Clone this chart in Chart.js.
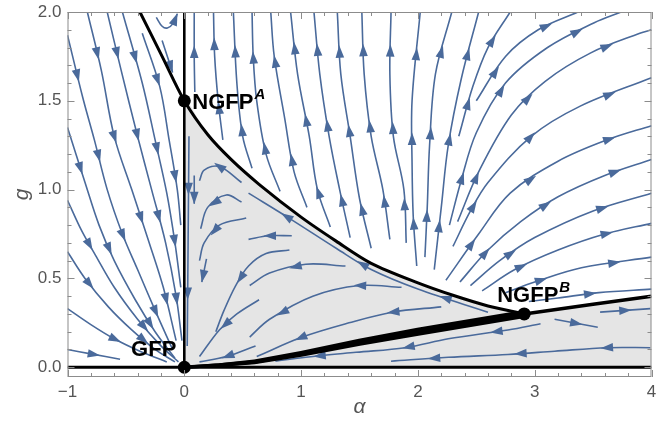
<!DOCTYPE html>
<html>
<head>
<meta charset="utf-8">
<script src="https://cdn.jsdelivr.net/npm/chart.js@4.4.0/dist/chart.umd.min.js"></script>
<style>
  html, body { margin: 0; padding: 0; background: #fff; }
</style>
</head>
<body>
<canvas id="myChart" width="658" height="443"></canvas>
<script>
// axis ticks
const xTicks = [-1, 0, 1, 2, 3, 4];
const yTicks = [0, 0.5, 1, 1.5, 2];

// fixed points and their names
const fixedPoints = [[0, 0], [0, 1.5], [2.91, 0.30]];
const fixedNames = ["GFP", "NGFP", "NGFP"];
const fixedSups = ["", "A", "B"];

// separatrices (alpha, g)
const upperSep = [[-0.38, 2.0], [-0.19, 1.75], [0, 1.5], [0.2, 1.31], [0.4, 1.17], [0.64, 1.03], [1.0, 0.845],
  [1.3, 0.71], [1.6, 0.585], [2.0, 0.475], [2.3, 0.405], [2.6, 0.345], [2.91, 0.30]];
const lowerSep = [[0, 0], [0.3, 0.012], [0.6, 0.03], [1.0, 0.075], [1.5, 0.14], [2.0, 0.2], [2.5, 0.255],
  [2.91, 0.30], [3.5, 0.355], [4.0, 0.40]];
const gAxisLine = [[0, 0], [0, 2]];
const alphaAxisLine = [[-1, 0], [4, 0]];

// stream lines, listed in the direction of flow
const leftLines = [
  [[-1, 1.87], [-0.87, 1.52], [-0.77, 1.28], [-0.66, 1.0], [-0.53, 0.75], [-0.40, 0.55], [-0.25, 0.32], [-0.1, 0.1]],
  [[-0.83, 2.0], [-0.71, 1.67], [-0.6, 1.3], [-0.45, 1.0], [-0.3, 0.7], [-0.18, 0.45], [-0.07, 0.15]],
  [[-0.66, 2.0], [-0.54, 1.67], [-0.4, 1.3], [-0.28, 1.0], [-0.16, 0.7], [-0.07, 0.4], [-0.02, 0.15]],
  [[-0.53, 2.0], [-0.36, 1.6], [-0.25, 1.28], [-0.15, 0.98], [-0.08, 0.7], [-0.03, 0.45]],
  [[-0.36, 1.88], [-0.21, 1.58], [-0.13, 1.28], [-0.06, 1.0], [-0.03, 0.8]],
  [[-0.19, 1.84], [-0.1, 1.66]],
  [[-0.24, 1.97], [-0.19, 1.92], [-0.145, 1.91], [-0.09, 1.94], [-0.06, 1.99]],
  [[-1, 1.35], [-0.85, 1.04], [-0.73, 0.8], [-0.6, 0.6], [-0.42, 0.38], [-0.25, 0.2], [-0.08, 0.05]],
  [[-1, 0.94], [-0.88, 0.77], [-0.76, 0.63], [-0.6, 0.45], [-0.4, 0.27], [-0.2, 0.12], [-0.05, 0.03]],
  [[-1, 0.65], [-0.85, 0.5], [-0.65, 0.34], [-0.45, 0.21], [-0.25, 0.1], [-0.08, 0.03]],
  [[-1, 0.33], [-0.8, 0.24], [-0.6, 0.16], [-0.38, 0.09], [-0.15, 0.03]],
  [[-1, 0.10], [-0.8, 0.075], [-0.55, 0.045]]
];

const upperLines = [
  [[0.09, 1.55], [0.085, 1.75], [0.085, 2.0]],
  [[0.33, 1.28], [0.29, 1.5], [0.26, 1.75], [0.25, 2.0]],
  [[0.58, 1.12], [0.5, 1.3], [0.45, 1.6], [0.42, 2.0]],
  [[0.82, 0.99], [0.7, 1.2], [0.62, 1.5], [0.59, 1.75], [0.58, 2.0]],
  [[1.05, 0.9], [0.94, 1.1], [0.86, 1.4], [0.77, 1.75], [0.74, 2.0]],
  [[1.25, 0.79], [1.14, 1.0], [1.07, 1.3], [0.97, 1.65], [0.91, 2.0]],
  [[1.42, 0.73], [1.33, 1.0], [1.24, 1.3], [1.16, 1.65], [1.11, 2.0]],
  [[1.6, 0.67], [1.5, 0.95], [1.42, 1.3], [1.34, 1.65], [1.31, 2.0]],
  [[1.76, 0.72], [1.7, 1.0], [1.6, 1.3], [1.54, 1.65], [1.52, 2.0]],
  [[1.9, 0.7], [1.88, 1.0], [1.79, 1.3], [1.76, 1.65], [1.77, 2.0]],
  [[1.99, 0.57], [1.96, 0.85], [1.95, 1.15], [1.95, 1.5], [2.02, 2.0]],
  [[2.06, 0.62], [2.08, 0.9], [2.1, 1.25], [2.15, 1.65], [2.29, 2.0]]
];

const rightLines = [
  [[2.14, 0.55], [2.2, 0.9], [2.26, 1.25], [2.37, 1.62], [2.52, 2.0]],
  [[2.35, 1.3], [2.47, 1.58], [2.6, 1.8], [2.79, 2.0]],
  [[2.5, 1.5], [2.75, 1.75], [3.03, 1.9], [3.37, 2.0]],
  [[2.27, 0.8], [2.37, 1.05], [2.5, 1.32], [2.75, 1.6], [3.11, 1.8], [3.51, 1.94], [3.74, 2.0]],
  [[2.34, 0.82], [2.52, 1.1], [2.8, 1.42], [3.09, 1.61], [3.48, 1.77], [3.9, 1.88], [4.0, 1.9]],
  [[2.3, 0.68], [2.45, 0.88], [2.6, 1.04], [2.97, 1.3], [3.39, 1.47], [4.0, 1.63]],
  [[2.24, 0.49], [2.52, 0.75], [2.79, 0.98], [3.2, 1.16], [3.62, 1.28], [4.0, 1.36]],
  [[2.36, 0.48], [2.6, 0.66], [2.88, 0.82], [3.2, 0.96], [3.6, 1.08], [4.0, 1.17]],
  [[2.45, 0.46], [2.7, 0.6], [3.0, 0.73], [3.5, 0.88], [4.0, 0.98]],
  [[2.55, 0.43], [2.83, 0.55], [3.2, 0.66], [3.6, 0.75], [4.0, 0.81]],
  [[2.75, 0.42], [3.0, 0.48], [3.4, 0.56], [4.0, 0.62]],
  [[2.95, 0.37], [3.2, 0.39], [3.55, 0.42], [4.0, 0.44]],
  [[3.17, 0.27], [3.54, 0.225]],
  [[3.56, 0.31], [3.99, 0.33]]
];

const shadedLines = [
  [[3.99, 0.11], [3.62, 0.11], [3.17, 0.09], [2.77, 0.072], [2.26, 0.056], [1.77, 0.034]],
  [[3.05, 0.245], [2.77, 0.21], [2.26, 0.16], [1.89, 0.11], [1.47, 0.084], [1.04, 0.056], [0.78, 0.034]],
  [[2.2, 0.34], [1.78, 0.31], [1.41, 0.25], [1.01, 0.17], [0.62, 0.06]],
  [[1.86, 0.45], [1.5, 0.46], [1.1, 0.40], [0.73, 0.27], [0.56, 0.17]],
  [[1.38, 0.57], [1.04, 0.58], [0.73, 0.53], [0.56, 0.46]],
  [[0.92, 0.74], [0.72, 0.74], [0.55, 0.72]],
  [[0.9, 0.66], [0.7, 0.64], [0.55, 0.57], [0.44, 0.46], [0.34, 0.32], [0.27, 0.2]],
  [[2.6, 0.31], [2.0, 0.44], [1.6, 0.55], [1.3, 0.67], [0.92, 0.83], [0.55, 0.98]],
  [[0.49, 1.04], [0.3, 1.13], [0.17, 1.11], [0.13, 1.05]],
  [[0.49, 0.93], [0.36, 0.97], [0.2, 0.9], [0.14, 0.78]],
  [[0.53, 0.84], [0.3, 0.8], [0.17, 0.7], [0.13, 0.6]],
  [[0.085, 1.08], [0.085, 0.92]],
  [[0.64, 0.38], [0.45, 0.3], [0.3, 0.21], [0.13, 0.06]],
  [[0.61, 0.12], [0.36, 0.06], [0.13, 0.03]],
  [[0.19, 0.61], [0.15, 0.48]],
  [[0.04, 1.3], [0.035, 0.9], [0.03, 0.5], [0.025, 0.12]]
];

const streamColor = "#4a6a9b";
const toXY = arr => arr.map(p => ({ x: p[0], y: p[1] }));

// shaded basin: g axis up to NGFP^A, upper separatrix to NGFP^B, lower separatrix to the right edge
const shadeLine = [[0, 0]].concat(upperSep.filter(p => p[0] >= 0), lowerSep.filter(p => p[0] > 2.91));

const streamSets = [].concat(leftLines, upperLines, rightLines, shadedLines).map(line => ({
  data: toXY(line),
  showLine: true,
  pointRadius: 0,
  borderColor: streamColor,
  borderWidth: 1.6,
  tension: 0.35,
  fill: false,
  stream: true,
  clip: 0,
  order: 5
}));

const datasets = [
  { data: toXY(fixedPoints), pointRadius: 6.5, pointBackgroundColor: "#000", pointBorderWidth: 0, showLine: false, order: 0 },
  { data: toXY(upperSep), showLine: true, pointRadius: 0, borderColor: "#000", borderWidth: 3, tension: 0.3, clip: 0, order: 2 },
  { data: toXY(lowerSep), showLine: true, pointRadius: 0, borderColor: "#000", borderWidth: 3.5, tension: 0, clip: 0, order: 2, wedge: true },
  { data: toXY(gAxisLine), showLine: true, pointRadius: 0, borderColor: "#000", borderWidth: 2.6, clip: 0, order: 2 },
  { data: toXY(alphaAxisLine), showLine: true, pointRadius: 0, borderColor: "#000", borderWidth: 3, clip: 0, order: 2 },
  { data: toXY(shadeLine), showLine: true, pointRadius: 0, borderWidth: 0, borderColor: "rgba(0,0,0,0)",
    backgroundColor: "#e5e5e5", fill: "origin", tension: 0.3, clip: 0, order: 10 }
].concat(streamSets);

const arrowPlugin = {
  id: "arrows",
  afterDatasetDraw(chart, args) {
    const ds = chart.data.datasets[args.index];
    const ctx = chart.ctx;
    if (ds.wedge) {
      // thickening of the lower separatrix between GFP and NGFP^B
      const pts = args.meta.data.filter((p, i) => ds.data[i].x <= 2.91).map((p, i) => ({ x: p.x, y: p.y, a: ds.data[i].x }));
      const top = [], bot = [];
      pts.forEach((p, i) => {
        const q0 = pts[Math.max(i - 1, 0)], q1 = pts[Math.min(i + 1, pts.length - 1)];
        const L = Math.hypot(q1.x - q0.x, q1.y - q0.y) || 1;
        const nx = -(q1.y - q0.y) / L, ny = (q1.x - q0.x) / L;
        const hw = 1.5 + 2.6 * Math.min(p.a / 1.9, 1);
        top.push([p.x + nx * hw, p.y + ny * hw]);
        bot.push([p.x - nx * hw, p.y - ny * hw]);
      });
      ctx.save();
      ctx.fillStyle = "#000";
      ctx.beginPath();
      top.forEach((q, i) => (i ? ctx.lineTo(q[0], q[1]) : ctx.moveTo(q[0], q[1])));
      bot.reverse().forEach(q => ctx.lineTo(q[0], q[1]));
      ctx.closePath();
      ctx.fill();
      ctx.restore();
      return;
    }
    if (!ds.stream) return;
    const pts = args.meta.data.map(p => ({ x: p.x, y: p.y }));
    const lens = [0];
    for (let i = 1; i < pts.length; i++) {
      lens.push(lens[i - 1] + Math.hypot(pts[i].x - pts[i - 1].x, pts[i].y - pts[i - 1].y));
    }
    const total = lens[lens.length - 1];
    if (total < 8) return;
    const n = Math.max(1, Math.round(total / 85));
    const area = chart.chartArea;
    ctx.save();
    ctx.beginPath();
    ctx.rect(area.left, area.top, area.right - area.left, area.bottom - area.top);
    ctx.clip();
    ctx.fillStyle = streamColor;
    for (let k = 0; k < n; k++) {
      const s = n === 1 && total < 40 ? total - 6 : total * (k + 0.5) / n;
      let j = 1;
      while (j < lens.length - 1 && lens[j] < s) j++;
      const p0 = pts[j - 1], p1 = pts[j];
      const seg = lens[j] - lens[j - 1] || 1;
      const t = (s - lens[j - 1]) / seg;
      const cx = p0.x + (p1.x - p0.x) * t, cy = p0.y + (p1.y - p0.y) * t;
      const dx = (p1.x - p0.x) / seg, dy = (p1.y - p0.y) / seg;
      ctx.beginPath();
      ctx.moveTo(cx + dx * 6.5, cy + dy * 6.5);
      ctx.lineTo(cx - dx * 6 - dy * 4.3, cy - dy * 6 + dx * 4.3);
      ctx.lineTo(cx - dx * 6 + dy * 4.3, cy - dy * 6 - dx * 4.3);
      ctx.closePath();
      ctx.fill();
    }
    ctx.restore();
  }
};

const framePlugin = {
  id: "frame",
  afterDatasetsDraw(chart) {
    const { ctx, chartArea: a, scales: { x, y } } = chart;
    ctx.save();
    ctx.strokeStyle = "#8c8c8c";
    ctx.lineWidth = 1;
    ctx.strokeRect(a.left + 0.5, a.top + 0.5, a.right - a.left - 1, a.bottom - a.top - 1);
    ctx.beginPath();
    for (let v = -1; v <= 4.001; v += 0.2) {
      const px = Math.round(x.getPixelForValue(v)) + 0.5;
      const len = Math.abs(v - Math.round(v)) < 1e-6 ? 7 : 4;
      ctx.moveTo(px, a.bottom); ctx.lineTo(px, a.bottom - len);
      ctx.moveTo(px, a.top); ctx.lineTo(px, a.top + len);
    }
    for (let v = 0; v <= 2.001; v += 0.1) {
      const py = Math.round(y.getPixelForValue(v)) + 0.5;
      const len = Math.abs(v * 2 - Math.round(v * 2)) < 1e-6 ? 7 : 4;
      ctx.moveTo(a.left, py); ctx.lineTo(a.left + len, py);
      ctx.moveTo(a.right, py); ctx.lineTo(a.right - len, py);
    }
    ctx.stroke();

    // fixed point labels
    ctx.fillStyle = "#000";
    ctx.textBaseline = "alphabetic";
    ctx.textAlign = "left";
    fixedPoints.forEach((p, i) => {
      const px = x.getPixelForValue(p[0]), py = y.getPixelForValue(p[1]);
      ctx.font = "bold 22px 'Liberation Sans', Arial, sans-serif";
      const w = ctx.measureText(fixedNames[i]).width;
      let lx, ly;
      if (i === 0) { lx = px - 8 - w; ly = py - 11; }
      else if (i === 1) { lx = px + 8; ly = py + 8; }
      else { lx = px - 27; ly = py - 12; }
      ctx.fillText(fixedNames[i], lx, ly);
      if (fixedSups[i]) {
        ctx.font = "italic bold 15px 'Liberation Sans', Arial, sans-serif";
        ctx.fillText(fixedSups[i], lx + w + 1, ly - 10);
      }
    });
    ctx.restore();
  }
};

new Chart("myChart", {
  type: "scatter",
  data: { datasets: datasets },
  options: {
    responsive: false,
    animation: false,
    layout: { padding: { top: 12, right: 2, left: 0, bottom: 0 } },
    plugins: { legend: { display: false }, tooltip: { enabled: false } },
    scales: {
      x: {
        type: "linear",
        min: -1,
        max: 4,
        afterBuildTicks: s => { s.ticks = xTicks.map(v => ({ value: v })); },
        afterFit: s => { s.height = 66; s.paddingLeft = 0; s.paddingRight = 0; },
        grid: { display: false, drawTicks: false },
        border: { display: false },
        ticks: {
          color: "#555",
          padding: 5,
          autoSkip: false,
          maxRotation: 0,
          font: { size: 17, family: "'Liberation Sans', Arial, sans-serif" },
          callback: v => (v < 0 ? "\u2212" + Math.abs(v) : String(v))
        },
        title: {
          display: true,
          text: "\u03b1",
          color: "#555",
          font: { size: 21, style: "italic", family: "'Liberation Sans', Arial, sans-serif" },
          padding: { top: 0, bottom: 23 }
        }
      },
      y: {
        type: "linear",
        min: -0.055,
        max: 2,
        afterBuildTicks: s => { s.ticks = yTicks.map(v => ({ value: v })); },
        afterFit: s => { s.width = 67.5; s.paddingTop = 0; s.paddingBottom = 0; },
        grid: { display: false, drawTicks: false },
        border: { display: false },
        ticks: {
          color: "#555",
          padding: 6,
          font: { size: 17, family: "'Liberation Sans', Arial, sans-serif" },
          callback: v => v.toFixed(1)
        },
        title: {
          display: true,
          text: "g",
          color: "#555",
          font: { size: 21, style: "italic", family: "'Liberation Sans', Arial, sans-serif" },
          padding: { top: 10, bottom: 0 }
        }
      }
    }
  },
  plugins: [arrowPlugin, framePlugin]
});
</script>
</body>
</html>
